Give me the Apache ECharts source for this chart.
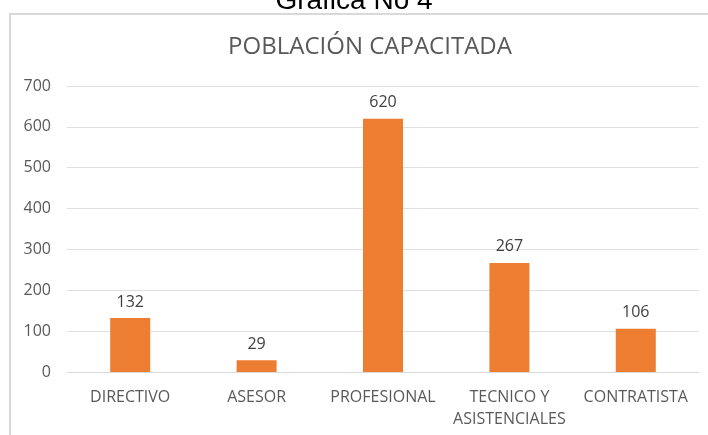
<!DOCTYPE html>
<html>
<head>
<meta charset="utf-8">
<script src="https://cdn.jsdelivr.net/npm/echarts@6/dist/echarts.min.js"></script>
<style>
  html, body { margin: 0; padding: 0; background: #fff; }
  #content { width: 708px; height: 435px; }
</style>
</head>
<body>
<div id="content"></div>
<script>
// datos de la grafica
var categorias = ['DIRECTIVO', 'ASESOR', 'PROFESIONAL', 'TECNICO Y\nASISTENCIALES', 'CONTRATISTA'];
var valores = [132, 29, 620, 267, 106];
var ejeY = { min: 0, max: 700, interval: 100 };

var myChart = echarts.init(document.getElementById('content'));
var fuente = '"Open Sans", "Noto Sans", sans-serif';

var option = {
    animation: false,
    graphic: [
        {
            type: 'text',
            left: 'center',
            top: -13,
            style: { text: 'Grafica No 4', font: '28px "Liberation Sans", Arial, sans-serif', fill: '#000' }
        },
        {
            type: 'rect',
            shape: { x: 10, y: 14, width: 730, height: 440 },
            style: { fill: 'none', stroke: '#d9d9d9', lineWidth: 2 }
        }
    ],
    title: {
        text: 'POBLACIÓN CAPACITADA',
        left: 365,
        textAlign: 'center',
        top: 30,
        textStyle: { fontFamily: fuente, fontSize: 24, fontWeight: 'normal', color: '#595959' }
    },
    grid: { left: 67, right: 9, top: 86, bottom: 63 },
    xAxis: {
        type: 'category',
        data: categorias,
        axisTick: { show: false },
        axisLine: { lineStyle: { color: '#d9d9d9' } },
        axisLabel: { color: '#595959', fontFamily: fuente, fontSize: 16, margin: 14, lineHeight: 22, interval: 0 }
    },
    yAxis: {
        type: 'value',
        min: ejeY.min,
        max: ejeY.max,
        interval: ejeY.interval,
        axisLine: { show: false },
        axisTick: { show: false },
        splitLine: { lineStyle: { color: '#e0e0e0' } },
        axisLabel: { color: '#595959', fontFamily: fuente, fontSize: 16, margin: 16 }
    },
    series: [
        {
            type: 'bar',
            data: valores,
            barWidth: 40,
            itemStyle: { color: '#ed7d31' },
            label: {
                show: true,
                position: 'top',
                distance: 8,
                color: '#404040',
                fontFamily: fuente,
                fontSize: 16
            }
        }
    ]
};
myChart.setOption(option);
</script>
</body>
</html>
